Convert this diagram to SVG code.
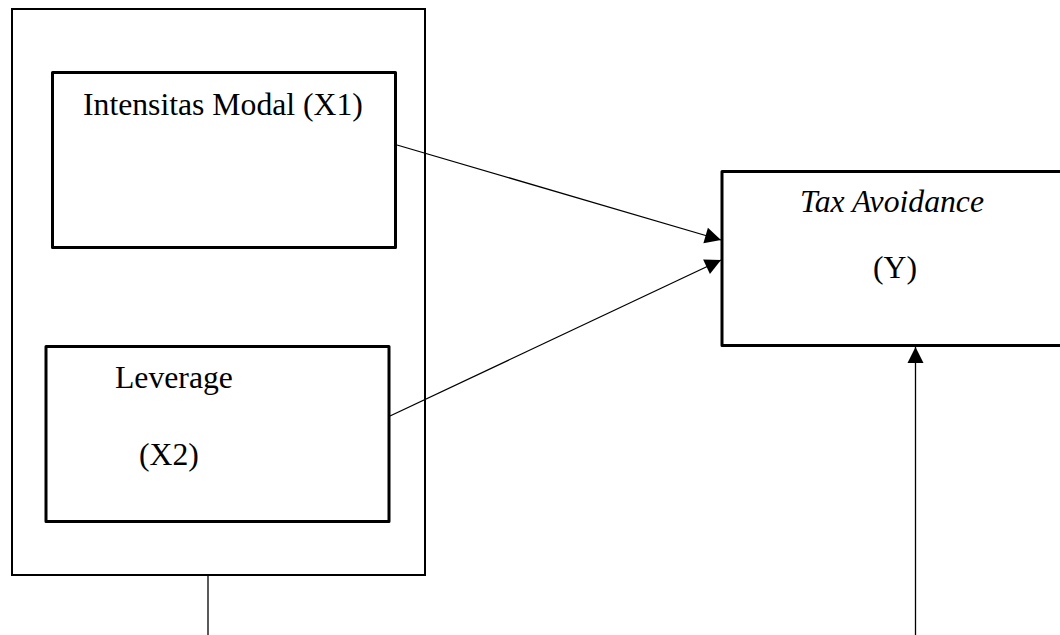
<svg xmlns="http://www.w3.org/2000/svg" width="1060" height="635" viewBox="0 0 1060 635">
<style>
.box{fill:none;stroke:#000;stroke-width:3;stroke-linejoin:round}
.outer{fill:none;stroke:#000;stroke-width:2}
.t{font-family:"Liberation Serif","Times New Roman",serif;font-size:31.7px;fill:#000}
.conn line{stroke:#000;stroke-width:1.3}
</style>
<defs>
<marker id="ah" markerUnits="userSpaceOnUse" markerWidth="20" markerHeight="20" refX="16" refY="8" orient="auto" overflow="visible">
<path d="M0,0 L16,8 L0,16 z" fill="#000"/>
</marker>
</defs>
<rect width="1060" height="635" fill="#fff"/>
<g id="group-x">
<rect class="outer" x="12" y="9" width="413" height="566"/>
</g>
<g id="x1">
<rect class="box" x="52.5" y="72.5" width="343" height="175"/>
<text class="t" x="83" y="115">Intensitas Modal (X1)</text>
</g>
<g id="x2">
<rect class="box" x="46" y="346.5" width="343" height="175"/>
<text class="t" x="115" y="388">Leverage</text>
<text class="t" x="139" y="465">(X2)</text>
</g>
<g id="y">
<rect class="box" x="722" y="171.5" width="360" height="174"/>
<text class="t" x="800" y="212" font-style="italic">Tax Avoidance</text>
<text class="t" x="873" y="278">(Y)</text>
</g>
<g id="connectors" class="conn">
<line x1="397" y1="145" x2="721" y2="240" marker-end="url(#ah)"/>
<line x1="390" y1="416" x2="721" y2="260" marker-end="url(#ah)"/>
<line x1="915.5" y1="635" x2="915.5" y2="347" marker-end="url(#ah)"/>
<line x1="208" y1="575" x2="208" y2="635"/>
</g>
</svg>
